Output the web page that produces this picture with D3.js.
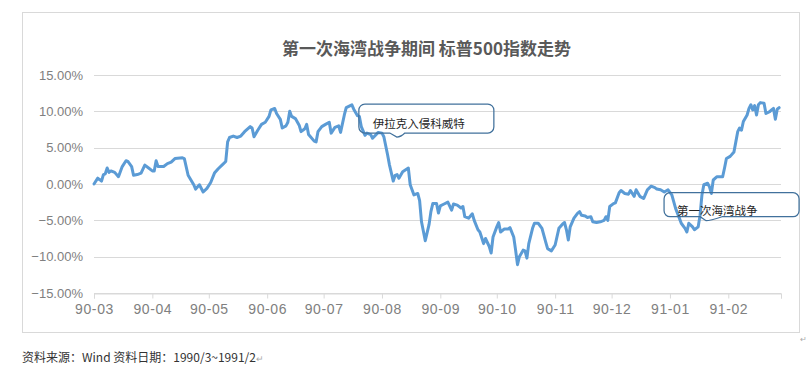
<!DOCTYPE html>
<html>
<head>
<meta charset="utf-8">
<script src="https://cdn.jsdelivr.net/npm/d3@7"></script>
<style>
    body { margin: 0; background: #fff; font-family: "Noto Sans CJK SC", "Noto Sans", sans-serif; }
    .axis text { fill: #808080; font-size: 13px; font-family: "Liberation Sans", "Noto Sans CJK SC", sans-serif; }
    .x-axis text { font-size: 14px; letter-spacing: 0.6px; }
    .grid line { stroke: #d9d9d9; }
</style>
</head>
<body>
<div class="chart"></div>
<script>
// S&P 500 cumulative change (%)
const dates = [
    "1990-03-01","1990-03-03","1990-03-05","1990-03-06","1990-03-07","1990-03-08","1990-03-09","1990-03-10","1990-03-12","1990-03-14",
    "1990-03-16","1990-03-18","1990-03-19","1990-03-21","1990-03-22","1990-03-24","1990-03-26","1990-03-28","1990-03-30","1990-04-01",
    "1990-04-02","1990-04-03","1990-04-04","1990-04-07","1990-04-09","1990-04-11","1990-04-13","1990-04-17","1990-04-18","1990-04-20",
    "1990-04-23","1990-04-24","1990-04-26","1990-04-28","1990-04-30","1990-05-02","1990-05-04","1990-05-06","1990-05-08","1990-05-10",
    "1990-05-11","1990-05-12","1990-05-14","1990-05-16","1990-05-18","1990-05-20","1990-05-23","1990-05-24","1990-05-25","1990-05-27",
    "1990-05-29","1990-05-31","1990-06-02","1990-06-03","1990-06-05","1990-06-06","1990-06-08","1990-06-09","1990-06-11","1990-06-12",
    "1990-06-13","1990-06-14","1990-06-16","1990-06-18","1990-06-19","1990-06-21","1990-06-22","1990-06-23","1990-06-26","1990-06-27",
    "1990-06-28","1990-06-30","1990-07-02","1990-07-04","1990-07-05","1990-07-07","1990-07-09","1990-07-10","1990-07-12","1990-07-13",
    "1990-07-16","1990-07-17","1990-07-19","1990-07-20","1990-07-21","1990-07-23","1990-07-24","1990-07-26","1990-07-27","1990-07-30",
    "1990-08-01","1990-08-02","1990-08-04","1990-08-05","1990-08-07","1990-08-08","1990-08-09","1990-08-10","1990-08-12","1990-08-15",
    "1990-08-16","1990-08-18","1990-08-20","1990-08-21","1990-08-22","1990-08-24","1990-08-26","1990-08-27","1990-08-28","1990-08-30",
    "1990-08-31","1990-09-01","1990-09-03","1990-09-05","1990-09-07","1990-09-08","1990-09-10","1990-09-12","1990-09-13","1990-09-14",
    "1990-09-16","1990-09-18","1990-09-19","1990-09-21","1990-09-22","1990-09-24","1990-09-25","1990-09-27","1990-09-28","1990-09-29",
    "1990-10-01","1990-10-02","1990-10-03","1990-10-05","1990-10-07","1990-10-08","1990-10-10","1990-10-11","1990-10-12","1990-10-13",
    "1990-10-15","1990-10-16","1990-10-17","1990-10-18","1990-10-20","1990-10-21","1990-10-23","1990-10-25","1990-10-27","1990-10-28",
    "1990-10-30","1990-11-01","1990-11-03","1990-11-05","1990-11-06","1990-11-07","1990-11-08","1990-11-09","1990-11-11","1990-11-13",
    "1990-11-14","1990-11-15","1990-11-17","1990-11-18","1990-11-20","1990-11-21","1990-11-23","1990-11-25","1990-11-27","1990-11-28",
    "1990-11-29","1990-11-30","1990-12-02","1990-12-03","1990-12-05","1990-12-06","1990-12-08","1990-12-10","1990-12-11","1990-12-13",
    "1990-12-14","1990-12-16","1990-12-18","1990-12-20","1990-12-22","1990-12-24","1990-12-25","1990-12-27","1990-12-29","1990-12-31",
    "1991-01-02","1991-01-04","1991-01-06","1991-01-07","1991-01-09","1991-01-10","1991-01-11","1991-01-13","1991-01-14","1991-01-16",
    "1991-01-17","1991-01-18","1991-01-19","1991-01-21","1991-01-22","1991-01-23","1991-01-24","1991-01-26","1991-01-29","1991-01-30",
    "1991-01-31","1991-02-02","1991-02-04","1991-02-05","1991-02-06","1991-02-07","1991-02-08","1991-02-09","1991-02-11","1991-02-12",
    "1991-02-13","1991-02-14","1991-02-15","1991-02-16","1991-02-17","1991-02-18","1991-02-20","1991-02-21","1991-02-23","1991-02-24",
    "1991-02-25","1991-02-26","1991-02-27","1991-02-28"
];
const values = [
    0.0, 0.8, 0.4, 1.3, 1.4, 2.2, 1.6, 1.8, 1.6, 1.0,
    2.4, 3.2, 3.1, 2.4, 1.2, 1.3, 1.5, 2.6, 2.2, 1.8,
    1.8, 3.2, 2.4, 2.4, 2.8, 3.0, 3.5, 3.6, 3.5, 1.2,
    -0.1, -0.7, -0.1, -1.1, -0.6, 0.2, 1.5, 2.1, 2.6, 3.1,
    5.8, 6.4, 6.6, 6.4, 6.6, 7.2, 7.9, 7.7, 6.5, 7.4,
    8.2, 8.5, 9.3, 10.2, 10.4, 9.7, 8.9, 7.7, 8.0, 8.5,
    10.0, 9.3, 9.0, 8.1, 7.2, 7.6, 8.2, 6.8, 5.9, 5.8,
    7.2, 7.9, 8.2, 8.5, 7.0, 7.8, 8.0, 7.1, 9.5, 10.5,
    10.9, 10.3, 9.4, 9.3, 7.9, 6.7, 7.0, 6.8, 6.3, 7.1,
    7.0, 6.5, 4.0, 2.6, 0.4, 1.2, 1.3, 0.8, 1.7, 2.2,
    -0.1, -1.5, -1.3, -2.3, -5.2, -7.8, -5.6, -3.8, -2.7, -2.7,
    -4.0, -3.0, -2.75, -2.5, -3.6, -2.75, -2.9, -3.3, -3.1, -4.5,
    -4.7, -4.1, -5.0, -6.3, -6.6, -8.2, -7.5, -8.6, -9.5, -7.3,
    -5.9, -5.3, -6.6, -6.2, -6.2, -6.0, -7.3, -9.1, -11.1, -10.0,
    -9.1, -9.2, -10.2, -8.2, -6.1, -5.4, -5.4, -6.1, -8.0, -8.9,
    -9.2, -8.4, -6.1, -5.5, -5.3, -6.3, -7.7, -5.9, -4.7, -4.0,
    -3.8, -4.3, -4.4, -4.6, -4.5, -5.2, -5.3, -5.2, -5.0, -4.5,
    -5.0, -3.1, -2.7, -2.6, -1.2, -0.9, -1.3, -1.4, -0.9, -1.7,
    -0.8, -1.7, -2.0, -0.8, -0.3, -0.5, -0.7, -0.8, -1.1, -0.8,
    -1.5, -3.35, -4.7, -5.4, -6.1, -6.6, -5.4, -5.9, -6.3, -5.9,
    -4.3, -1.5, -0.1, 0.1, -0.4, -1.3, 0.55, 1.0, 1.0, 2.2,
    3.5, 3.8, 4.4, 5.8, 7.2, 7.7, 7.4, 8.6, 9.5, 10.4,
    10.9, 10.2, 10.8, 9.5, 10.9, 11.2, 11.1, 9.7, 9.95, 10.2,
    10.4, 8.9, 10.3, 10.5
];
const monthTicks = ["1990-03-01","1990-04-01","1990-05-01","1990-06-01","1990-07-01","1990-08-01",
    "1990-09-01","1990-10-01","1990-11-01","1990-12-01","1991-01-01","1991-02-01","1991-03-01"];
const monthLabels = ["90-03","90-04","90-05","90-06","90-07","90-08","90-09","90-10","90-11","90-12","91-01","91-02",""];
const yTicks = [-15, -10, -5, 0, 5, 10, 15];

// annotations: text, anchor date, value at the top of the box
const annoTexts = ["伊拉克入侵科威特", "第一次海湾战争"];
const annoDates = ["1990-08-02", "1991-01-17"];
const annoTops = [11.0, -1.2];

const title = "第一次海湾战争期间 标普500指数走势";
const source = "资料来源：Wind 资料日期：1990/3~1991/2";

let parse = d3.timeParse("%Y-%m-%d");
let data = dates.map((d, i) => ({date: parse(d), value: values[i]}));

let margin = {top: 75, right: 29, bottom: 92, left: 94};
let width = 810 - margin.left - margin.right;
let height = 385 - margin.top - margin.bottom;

let root = d3.select('.chart')
    .append('svg')
    .attr('width', 810)
    .attr('height', 385);

// chart frame
root.append("rect")
    .attr("x", 22.5).attr("y", 12.5)
    .attr("width", 777).attr("height", 320)
    .attr("fill", "none")
    .attr("stroke", "#d9d9d9");

root.append("text")
    .attr("x", 282).attr("y", 55)
    .attr("font-size", "17px")
    .attr("font-weight", "bold")
    .attr("fill", "#595959")
    .text(title);

root.append("text")
    .attr("x", 22).attr("y", 362)
    .attr("font-size", "12px")
    .attr("fill", "#333")
    .text(source)
    .append("tspan")
    .attr("fill", "#aaa")
    .attr("font-size", "9px")
    .text("↵");

root.append("text")
    .attr("x", 800).attr("y", 342)
    .attr("font-size", "8px")
    .attr("fill", "#aaa")
    .text("↵");

let svg = root.append("g")
    .attr("transform", `translate(${margin.left},${margin.top})`);

let xScale = d3.scaleTime()
    .domain([parse(monthTicks[0]), parse(monthTicks[monthTicks.length - 1])])
    .range([0, width]);

let yScale = d3.scaleLinear()
    .domain([-15, 15])
    .range([height, 0]);

// gridlines
svg.append("g")
    .attr("class", "grid")
    .selectAll("line")
    .data(yTicks)
    .enter()
    .append("line")
    .attr("x1", 0).attr("x2", width)
    .attr("y1", d => Math.round(yScale(d)) + 0.5)
    .attr("y2", d => Math.round(yScale(d)) + 0.5);

let yAxis = d3.axisLeft(yScale)
    .tickValues(yTicks)
    .tickSize(0)
    .tickPadding(11)
    .tickFormat(d => d3.format(".2f")(d) + "%");

svg.append("g")
    .attr("class", "axis y-axis")
    .call(yAxis)
    .call(g => g.select(".domain").remove());

let xAxis = d3.axisBottom(xScale)
    .tickValues(monthTicks.map(parse))
    .tickSize(5)
    .tickPadding(6)
    .tickFormat((d, i) => monthLabels[i]);

svg.append("g")
    .attr("class", "axis x-axis")
    .attr("transform", `translate(0, ${Math.round(height) + 0.5})`)
    .call(xAxis)
    .call(g => g.select(".domain").attr("stroke", "#d9d9d9"))
    .call(g => g.selectAll(".tick line").attr("stroke", "#d9d9d9"));

let line = d3.line()
    .x(d => xScale(d.date))
    .y(d => yScale(d.value));

svg.append("path")
    .datum(data)
    .attr("d", line)
    .attr("fill", "none")
    .attr("stroke", "#5b9bd5")
    .attr("stroke-width", 3)
    .attr("stroke-linejoin", "round")
    .attr("stroke-linecap", "round");

// callout boxes with a small tail on the bottom edge
function callout(x0, y0, w, h, r, t1, t2, tip) {
    let p = d3.path();
    p.moveTo(x0 + r, y0);
    p.lineTo(x0 + w - r, y0);
    p.arcTo(x0 + w, y0, x0 + w, y0 + r, r);
    p.lineTo(x0 + w, y0 + h - r);
    p.arcTo(x0 + w, y0 + h, x0 + w - r, y0 + h, r);
    p.lineTo(x0 + t2, y0 + h);
    p.quadraticCurveTo(x0 + tip[0] + 4, y0 + h + tip[1], x0 + tip[0], y0 + h + tip[1]);
    p.lineTo(x0 + t1, y0 + h);
    p.lineTo(x0 + r, y0 + h);
    p.arcTo(x0, y0 + h, x0, y0 + h - r, r);
    p.lineTo(x0, y0 + r);
    p.arcTo(x0, y0, x0 + r, y0, r);
    p.closePath();
    return p.toString();
}

let boxes = [
    {dx: -25, w: 135, h: 29, t1: 31, t2: 46, tip: [38, 4], tx: 14, ty: 24},
    {dx: -36, w: 135, h: 24, t1: 36, t2: 58, tip: [42, 4], tx: 13, ty: 22}
];

annoTexts.forEach((t, i) => {
    let b = boxes[i];
    let x0 = xScale(parse(annoDates[i])) + b.dx;
    let y0 = yScale(annoTops[i]);
    svg.append("path")
        .attr("d", callout(x0, y0, b.w, b.h, 6, b.t1, b.t2, b.tip))
        .attr("fill", "none")
        .attr("stroke", "#41719c")
        .attr("stroke-width", 1.25);
    svg.append("text")
        .attr("x", x0 + b.tx)
        .attr("y", y0 + b.ty)
        .attr("font-size", "11.5px")
        .attr("fill", "#262626")
        .text(t);
});
</script>
</body>
</html>
